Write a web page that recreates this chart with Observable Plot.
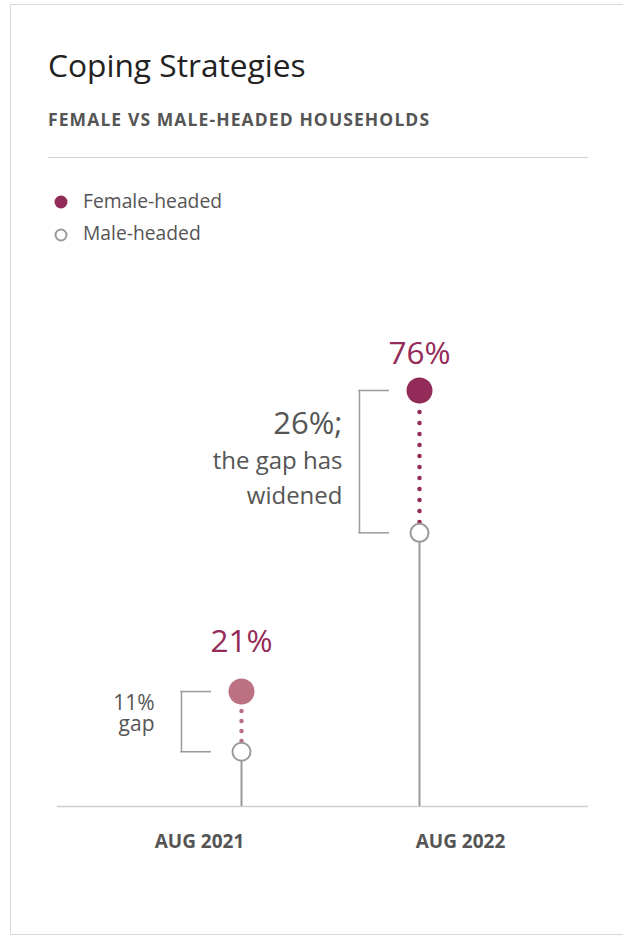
<!DOCTYPE html>
<html>
<head>
<meta charset="utf-8">
<script src="https://cdn.jsdelivr.net/npm/d3@7"></script>
<script src="https://cdn.jsdelivr.net/npm/@observablehq/plot@0.6"></script>
<style>
  html, body { margin: 0; padding: 0; background: #fff; width: 623px; height: 938px; overflow: hidden; font-family: "Open Sans", sans-serif; }
  #box { position: absolute; left: 10px; top: 4px; width: 700px; height: 931px; border: 1px solid #d9d9d9; box-sizing: border-box; }
  .abs { position: absolute; white-space: nowrap; line-height: 1; }
  #title { left: 48px; top: 49px; font-size: 31.7px; color: #222; font-weight: 400; }
  #subtitle { left: 48px; top: 110.5px; font-size: 17.5px; color: #555; font-weight: 700; letter-spacing: 1.1px; }
  #rule { position: absolute; left: 48px; top: 157px; width: 540px; height: 1px; background: #d0d0d0; }
  .leg { left: 83px; font-size: 19.3px; color: #555; }
  #chart { position: absolute; left: 0; top: 270px; }
</style>
</head>
<body>
<div id="box"></div>
<div id="title" class="abs">Coping Strategies</div>
<div id="subtitle" class="abs">FEMALE VS MALE-HEADED HOUSEHOLDS</div>
<div id="rule"></div>
<svg id="legsvg" style="position:absolute;left:0;top:0" width="100" height="260">
  <circle cx="61" cy="202" r="6.5" fill="#922b57"></circle>
  <circle cx="61" cy="235" r="5.5" fill="#fff" stroke="#9a9a9a" stroke-width="2"></circle>
</svg>
<div class="abs leg" style="top:191px">Female-headed</div>
<div class="abs leg" style="top:223px">Male-headed</div>
<div id="chart"></div>
<script>
// ---- data ----
const years = ["AUG 2021", "AUG 2022"];
const female = [21, 76];
const male = [10, 50];
const femaleLabels = ["21%", "76%"];
const gapValues = ["11%", "26%;"];
const gapNotes = [["gap"], ["the gap has", "widened"]];
const femaleColors = ["#bb7182", "#922b57"];

const data = years.map((y, i) => ({year: y, female: female[i], male: male[i], mid: (female[i] + male[i]) / 2}));

const GRAY = "#9a9a9a";
const TEXT = "#555";
const LABEL = "#952b58";

const marks = [];
// baseline
marks.push(Plot.ruleY([0], {stroke: "#cfcfcf", strokeWidth: 1.5}));
// stems to male value
marks.push(Plot.ruleX(data, {x: "year", y1: 0, y2: "male", stroke: GRAY, strokeWidth: 2}));
// dotted gap lines
data.forEach((d, i) => {
  marks.push(Plot.ruleX([d], {x: "year", y1: "female", y2: "male", stroke: femaleColors[i], strokeWidth: 4.5, strokeDasharray: i === 0 ? "0 10" : "0 11", strokeLinecap: "round"}));
});
// brackets
marks.push(Plot.ruleX(data, {x: "year", y1: "female", y2: "male", dx: -60, stroke: GRAY, strokeWidth: 1.5}));
marks.push(Plot.ruleY(data, {x1: "year", x2: "year", y: "female", insetLeft: -60.75, insetRight: 30, stroke: GRAY, strokeWidth: 1.5}));
marks.push(Plot.ruleY(data, {x1: "year", x2: "year", y: "male", insetLeft: -60.75, insetRight: 30, stroke: GRAY, strokeWidth: 1.5}));
// male dots
marks.push(Plot.dot(data, {x: "year", y: "male", r: 9, fill: "#fff", stroke: GRAY, strokeWidth: 2}));
// female dots
data.forEach((d, i) => {
  marks.push(Plot.dot([d], {x: "year", y: "female", r: 13, fill: femaleColors[i], stroke: null}));
});
// value labels
const labelDy = [-40, -27];
data.forEach((d, i) => {
  marks.push(Plot.text([d], {x: "year", y: "female", text: () => femaleLabels[i], dy: labelDy[i], lineAnchor: "bottom", fontSize: 31.5, fill: LABEL}));
});
// gap annotations
// 2021
marks.push(Plot.text([data[0]], {x: "year", y: "mid", text: () => gapValues[0], dx: -87, dy: -12, textAnchor: "end", lineAnchor: "bottom", fontSize: 21, fill: TEXT}));
marks.push(Plot.text([data[0]], {x: "year", y: "mid", text: () => gapNotes[0][0], dx: -87, dy: 9, textAnchor: "end", lineAnchor: "bottom", fontSize: 21, fill: TEXT}));
// 2022
marks.push(Plot.text([data[1]], {x: "year", y: "mid", text: () => gapValues[1], dx: -77, dy: -28, textAnchor: "end", lineAnchor: "bottom", fontSize: 31, fill: TEXT}));
marks.push(Plot.text([data[1]], {x: "year", y: "mid", text: () => gapNotes[1][0], dx: -77, dy: 7, textAnchor: "end", lineAnchor: "bottom", fontSize: 24, fill: TEXT}));
marks.push(Plot.text([data[1]], {x: "year", y: "mid", text: () => gapNotes[1][1], dx: -77, dy: 42, textAnchor: "end", lineAnchor: "bottom", fontSize: 24, fill: TEXT}));
// x labels
const axisDx = [-42, 41];
years.forEach((y, i) => {
  marks.push(Plot.text([y], {x: d => d, y: () => 0, text: d => d, dx: axisDx[i], dy: 41, lineAnchor: "bottom", fontSize: 19, fontWeight: 700, fill: TEXT}));
});

const chart = Plot.plot({
  width: 623,
  height: 600,
  marginLeft: 57,
  marginRight: 35,
  marginTop: 0,
  marginBottom: 0,
  x: {type: "point", domain: years, range: [241, 419], padding: 0, axis: null},
  y: {domain: [0, 76], range: [536, 120], axis: null},
  style: {background: "transparent", fontFamily: "Open Sans", overflow: "visible"},
  marks
});
document.getElementById("chart").appendChild(chart);
</script>
</body>
</html>
